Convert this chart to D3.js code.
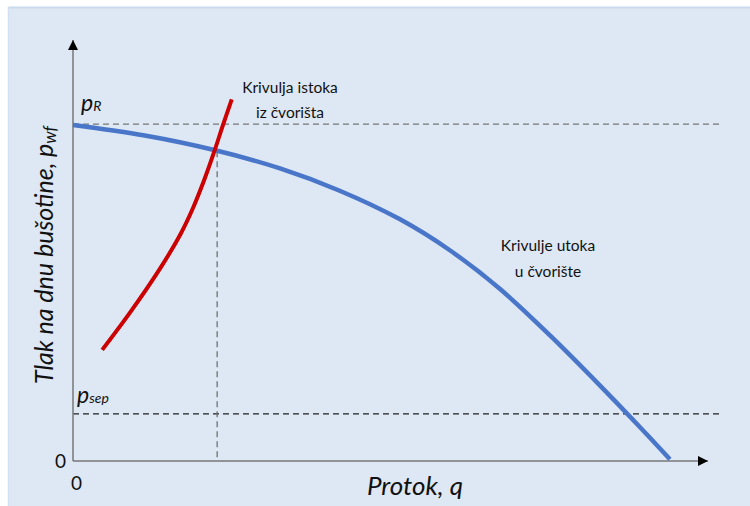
<!DOCTYPE html>
<html>
<head>
<meta charset="utf-8">
<script src="https://cdn.jsdelivr.net/npm/d3@7"></script>
<style>
  body { margin: 0; background: #fff; }
  svg { display: block; }
  text { font-family: Lato, "Open Sans", sans-serif; fill: #111; }
</style>
</head>
<body>
<svg id="chart" width="750" height="506"></svg>
<script>
// inflow curve (IPR), q vs pwf, in arbitrary units 0-100
const inflowQ = [0, 11.3, 22.4, 32.6, 42.0, 51.5, 59.4, 67.3, 75.2, 83.0, 89.3, 94.0];
const inflowP = [79.8, 77.3, 73.8, 69.5, 64.2, 57.4, 50.0, 40.8, 29.7, 17.9, 8.0, 0.4];

// outflow curve
const outflowQ = [4.6, 9.0, 13.7, 16.9, 18.9, 20.6, 22.2, 23.6, 25.0];
const outflowP = [26.4, 35.3, 45.7, 53.8, 60.1, 66.5, 73.3, 79.7, 85.9];

const pR = 80;
const pSep = 11.2;
const qOp = 22.7;
const pOp = 73.6;

const svg = d3.select("#chart");
const width = 750, height = 506;

// light blue panel
svg.append("rect")
  .attr("x", 8).attr("y", 7)
  .attr("width", width - 8).attr("height", height - 7)
  .attr("fill", "#dee8f4");
svg.append("line")
  .attr("x1", 8).attr("x2", width).attr("y1", 7.5).attr("y2", 7.5)
  .attr("stroke", "#c9daee").attr("stroke-width", 2);
svg.append("line")
  .attr("x1", 8.5).attr("x2", 8.5).attr("y1", 7).attr("y2", height)
  .attr("stroke", "#d2e0f0").attr("stroke-width", 1.5);

const x = d3.scaleLinear().domain([0, 100]).range([73, 708]);
const y = d3.scaleLinear().domain([0, 100]).range([461, 40]);

const defs = svg.append("defs");
defs.append("marker")
  .attr("id", "arrow")
  .attr("viewBox", "0 0 10 10")
  .attr("refX", 10).attr("refY", 5)
  .attr("markerWidth", 10).attr("markerHeight", 10)
  .attr("markerUnits", "userSpaceOnUse")
  .attr("orient", "auto")
  .append("path")
  .attr("d", "M0,0 L10,5 L0,10 Z")
  .attr("fill", "#000");

// dashed reference lines
svg.append("line")
  .attr("x1", x(0)).attr("x2", 722)
  .attr("y1", y(pR)).attr("y2", y(pR))
  .attr("stroke", "#777").attr("stroke-width", 1.2)
  .attr("stroke-dasharray", "6,4");
svg.append("line")
  .attr("x1", x(0)).attr("x2", 722)
  .attr("y1", y(pSep)).attr("y2", y(pSep))
  .attr("stroke", "#222").attr("stroke-width", 1.1)
  .attr("stroke-dasharray", "6,4");
svg.append("line")
  .attr("x1", x(qOp)).attr("x2", x(qOp))
  .attr("y1", y(pOp)).attr("y2", y(0))
  .attr("stroke", "#666").attr("stroke-width", 1.2)
  .attr("stroke-dasharray", "6,4");

// axes
svg.append("line")
  .attr("x1", x(0)).attr("x2", x(0))
  .attr("y1", y(0)).attr("y2", y(100))
  .attr("stroke", "#777").attr("stroke-width", 1.5)
  .attr("marker-end", "url(#arrow)");
svg.append("line")
  .attr("x1", x(0)).attr("x2", x(100))
  .attr("y1", y(0)).attr("y2", y(0))
  .attr("stroke", "#777").attr("stroke-width", 1.5)
  .attr("marker-end", "url(#arrow)");

const line = d3.line()
  .x(d => x(d[0]))
  .y(d => y(d[1]))
  .curve(d3.curveCatmullRom);

svg.append("path")
  .datum(inflowQ.map((q, i) => [q, inflowP[i]]))
  .attr("d", line)
  .attr("fill", "none")
  .attr("stroke", "#4a76c9")
  .attr("stroke-width", 4.5);

svg.append("path")
  .datum(outflowQ.map((q, i) => [q, outflowP[i]]))
  .attr("d", line)
  .attr("fill", "none")
  .attr("stroke", "#cc0000")
  .attr("stroke-width", 4);

// labels
svg.append("text").attr("x", 55).attr("y", 468)
  .style("font-size", "19px").text("0");
svg.append("text").attr("x", 71).attr("y", 490)
  .style("font-size", "19px").text("0");

const pRLabel = svg.append("text").attr("x", 81).attr("y", 111)
  .style("font-size", "23px").style("font-style", "italic");
pRLabel.append("tspan").text("p");
pRLabel.append("tspan").style("font-size", "14px").text("R");

const pSepLabel = svg.append("text").attr("x", 77).attr("y", 403)
  .style("font-size", "23px").style("font-style", "italic");
pSepLabel.append("tspan").text("p");
pSepLabel.append("tspan").style("font-size", "14px").text("sep");

svg.append("text")
  .attr("x", 415).attr("y", 495)
  .attr("text-anchor", "middle")
  .style("font-size", "26px").style("font-style", "italic")
  .text("Protok, q");

const yLabel = svg.append("text")
  .attr("transform", "translate(53,255) rotate(-90)")
  .attr("text-anchor", "middle")
  .style("font-size", "25px").style("font-style", "italic");
yLabel.append("tspan").text("Tlak na dnu bušotine, p");
yLabel.append("tspan").style("font-size", "17px").attr("dy", 3).text("wf");

svg.append("text").attr("x", 290).attr("y", 93)
  .attr("text-anchor", "middle").style("font-size", "15.5px")
  .text("Krivulja istoka");
svg.append("text").attr("x", 290).attr("y", 118)
  .attr("text-anchor", "middle").style("font-size", "15.5px")
  .text("iz čvorišta");

svg.append("text").attr("x", 548).attr("y", 251)
  .attr("text-anchor", "middle").style("font-size", "15.5px")
  .text("Krivulje utoka");
svg.append("text").attr("x", 548).attr("y", 277)
  .attr("text-anchor", "middle").style("font-size", "15.5px")
  .text("u čvorište");
</script>
</body>
</html>
